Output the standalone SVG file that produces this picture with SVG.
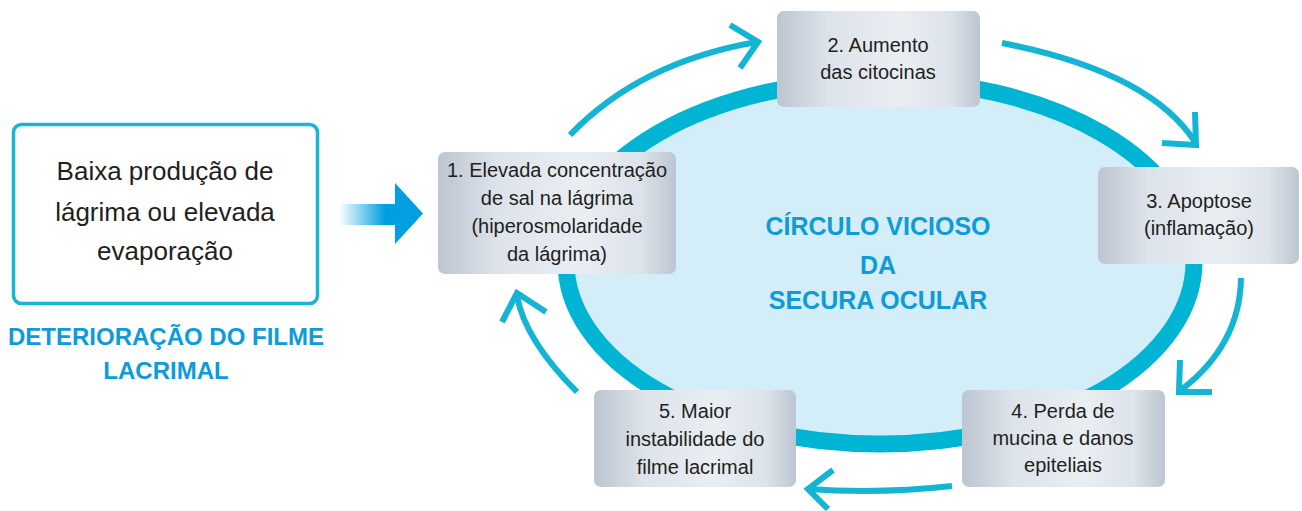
<svg xmlns="http://www.w3.org/2000/svg" width="1302" height="511" viewBox="0 0 1302 511">
<defs>
<linearGradient id="boxg" x1="0" y1="0" x2="1" y2="0">
<stop offset="0" stop-color="#bcc5d1"/>
<stop offset="0.25" stop-color="#dde3ea"/>
<stop offset="0.6" stop-color="#e9eef3"/>
<stop offset="0.85" stop-color="#dde3ea"/>
<stop offset="1" stop-color="#bcc5d1"/>
</linearGradient>
<linearGradient id="arrg" x1="339" y1="0" x2="423" y2="0" gradientUnits="userSpaceOnUse">
<stop offset="0" stop-color="#ffffff"/>
<stop offset="0.55" stop-color="#009fe0"/>
<stop offset="1" stop-color="#009fe0"/>
</linearGradient>
<style>
.box{fill:url(#boxg);}
.t{font-family:"Liberation Sans",Arial,sans-serif;font-size:20px;fill:#231f20;text-anchor:middle;}
.big{font-family:"Liberation Sans",Arial,sans-serif;font-size:26px;fill:#231f20;text-anchor:middle;}
.blue{font-family:"Liberation Sans",Arial,sans-serif;font-weight:bold;fill:#0e9bd8;text-anchor:middle;}
.arr{fill:none;stroke:#14b4d4;stroke-width:6;}
</style>
</defs>
<rect width="1302" height="511" fill="#ffffff"/>

<g id="cycle-ellipse">
<ellipse cx="880" cy="262" rx="314" ry="182" fill="#d3edf9" stroke="#00b4d4" stroke-width="17"/>
<text class="blue" font-size="25" x="878" y="235">CÍRCULO VICIOSO</text>
<text class="blue" font-size="25" x="878" y="274">DA</text>
<text class="blue" font-size="25" x="878" y="309">SECURA OCULAR</text>
</g>

<g id="connectors">
<path class="arr" d="M570,135 Q640,62 757,42"/>
<path class="arr" d="M730,25 L758,42 L740,68"/>
<path class="arr" d="M1002,43 Q1150,72 1195,142"/>
<path class="arr" d="M1195,112 L1196,145 L1162,143"/>
<path class="arr" d="M1241,278 Q1240,345 1181,390"/>
<path class="arr" d="M1180,360 L1179,392 L1212,392"/>
<path class="arr" d="M952,486 Q880,494 808,489"/>
<path class="arr" d="M833,470 L808,489 L828,509"/>
<path class="arr" d="M577,392 Q525,340 517,296"/>
<path class="arr" d="M502,322 L517,293 L546,312"/>
<path d="M339,204 L395,204 L395,183 L423,213.5 L395,244 L395,225 L339,225 Z" fill="url(#arrg)"/>
</g>

<g id="source">
<rect x="13.5" y="124.5" width="304" height="179" rx="8" fill="#ffffff" stroke="#1ab5d4" stroke-width="3.5"/>
<text class="big" x="165" y="180">Baixa produção de</text>
<text class="big" x="165" y="221">lágrima ou elevada</text>
<text class="big" x="165" y="260">evaporação</text>
<text class="blue" font-size="24" x="166" y="345">DETERIORAÇÃO DO FILME</text>
<text class="blue" font-size="24" x="166" y="379">LACRIMAL</text>
</g>

<g id="node1">
<rect class="box" x="438" y="152" width="238" height="122" rx="7"/>
<text class="t" x="557" y="177">1. Elevada concentração</text>
<text class="t" x="557" y="205">de sal na lágrima</text>
<text class="t" x="557" y="233">(hiperosmolaridade</text>
<text class="t" x="557" y="261">da lágrima)</text>
</g>

<g id="node2">
<rect class="box" x="777" y="11" width="203" height="96" rx="7"/>
<text class="t" x="878" y="52">2. Aumento</text>
<text class="t" x="878" y="79">das citocinas</text>
</g>

<g id="node3">
<rect class="box" x="1098" y="167" width="201" height="97" rx="7"/>
<text class="t" x="1199" y="208">3. Apoptose</text>
<text class="t" x="1199" y="235">(inflamação)</text>
</g>

<g id="node4">
<rect class="box" x="962" y="390" width="203" height="97" rx="7"/>
<text class="t" x="1063" y="418">4. Perda de</text>
<text class="t" x="1063" y="445">mucina e danos</text>
<text class="t" x="1063" y="472">epiteliais</text>
</g>

<g id="node5">
<rect class="box" x="594" y="390" width="202" height="97" rx="7"/>
<text class="t" x="695" y="418">5. Maior</text>
<text class="t" x="695" y="446">instabilidade do</text>
<text class="t" x="695" y="474">filme lacrimal</text>
</g>
</svg>
